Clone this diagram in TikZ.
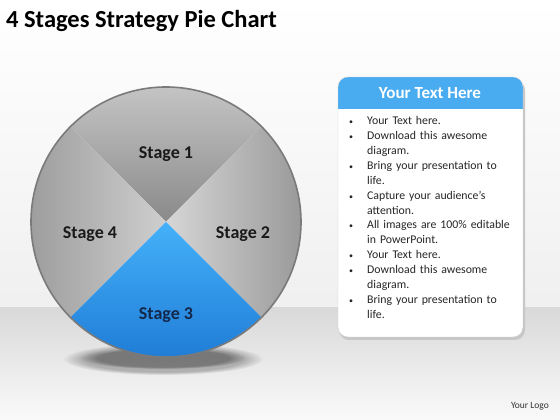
\documentclass[tikz,border=0pt]{standalone}
\usepackage{fontspec}
\setmainfont{Carlito}
\usetikzlibrary{fadings}
\definecolor{pieblueL}{HTML}{45B1FA}
\definecolor{pieblueD}{HTML}{1C78D3}
\definecolor{headblue}{HTML}{4AACF0}
\definecolor{navy}{HTML}{14284B}
\newcommand\Rad{135pt}
\newcommand\bitem[1]{\makebox[18pt][l]{\fontsize{8}{8}\selectfont\textbullet}#1\par}
\newcommand\bmore[1]{\hspace*{18pt}#1\par}
\tikzset{
  stage/.style={
    font=\fontsize{18}{20}\selectfont\bfseries,
    text=black!90,
    inner sep=0pt
  },
  title/.style={
    font=\fontsize{24.5}{27}\selectfont\bfseries,
    inner sep=0pt
  },
  head/.style={
    font=\fontsize{17}{19}\selectfont\bfseries,
    text=white,
    inner sep=0pt
  },
  bullets/.style={
    font=\fontsize{11.8}{14.85}\selectfont,
    text=black!85,
    text width=172pt,
    align=left,
    inner sep=0pt
  },
  logo/.style={
    font=\fontsize{9.5}{11}\selectfont,
    text=black!80,
    inner sep=0pt
  },
  rim/.style={
    draw=black!52,
    line width=1.6pt
  },
  card/.style={
    rounded corners=10pt
  },
  softshadow/.style={
    fill=black,
    path fading=circle with fuzzy edge 20 percent
  }
}
\begin{document}
\begin{tikzpicture}[x=1pt,y=1pt]
  \useasboundingbox (0,0) rectangle (560,420);

  % backdrop and floor
  \shade[top color=white, bottom color=black!6] (0,112) rectangle (560,420);
  \shade[top color=black!15, bottom color=black!2] (0,0) rectangle (560,112);

  % pie shadow
  \fill[softshadow, opacity=.25] (163,61) ellipse (100pt and 16pt);
  \fill[softshadow, opacity=.3] (163,62) ellipse (82pt and 11pt);

  % pie
  \coordinate (C) at (166,198);
  \shade[top color=black!21, bottom color=black!46]
    (C) -- ++(45:\Rad) arc (45:135:\Rad) -- cycle;
  \shade[left color=black!16, right color=black!42]
    (C) -- ++(-45:\Rad) arc (-45:45:\Rad) -- cycle;
  \shade[left color=black!40, right color=black!19]
    (C) -- ++(135:\Rad) arc (135:225:\Rad) -- cycle;
  \shade[top color=pieblueL, bottom color=pieblueD]
    (C) -- ++(225:\Rad) arc (225:315:\Rad) -- cycle;
  \draw[rim] (C) circle (\Rad);

  \node[stage] (s1) at (166,266) {Stage 1};
  \node[stage] (s2) at (243,186) {Stage 2};
  \node[stage, text=navy] (s3) at (166,105) {Stage 3};
  \node[stage] (s4) at (90,186) {Stage 4};

  % text card
  \fill[black!22, card] (339,80) rectangle (525,340);
  \begin{scope}
    \clip[card] (338,83) rectangle (523,343);
    \fill[white] (338,83) rectangle (523,343);
    \fill[headblue] (338,311) rectangle (523,343);
  \end{scope}
  \draw[black!18, card] (338,83) rectangle (523,343);

  \node[head, anchor=base] (head) at (430,321) {Your Text Here};
  \node[bullets, anchor=base west] (list) at (349,295) {%
    \bitem{Your Text here.}
    \bitem{Download this awesome}
    \bmore{diagram.}
    \bitem{Bring your presentation to}
    \bmore{life.}
    \bitem{Capture your audience’s}
    \bmore{attention.}
    \bitem{All images are 100\% editable}
    \bmore{in PowerPoint.}
    \bitem{Your Text here.}
    \bitem{Download this awesome}
    \bmore{diagram.}
    \bitem{Bring your presentation to}
    \bmore{life.}};

  \node[title, anchor=base west] (title) at (6,392) {4 Stages Strategy Pie Chart};
  \node[logo, anchor=base east] (logo) at (549,11) {Your Logo};
\end{tikzpicture}
\end{document}
